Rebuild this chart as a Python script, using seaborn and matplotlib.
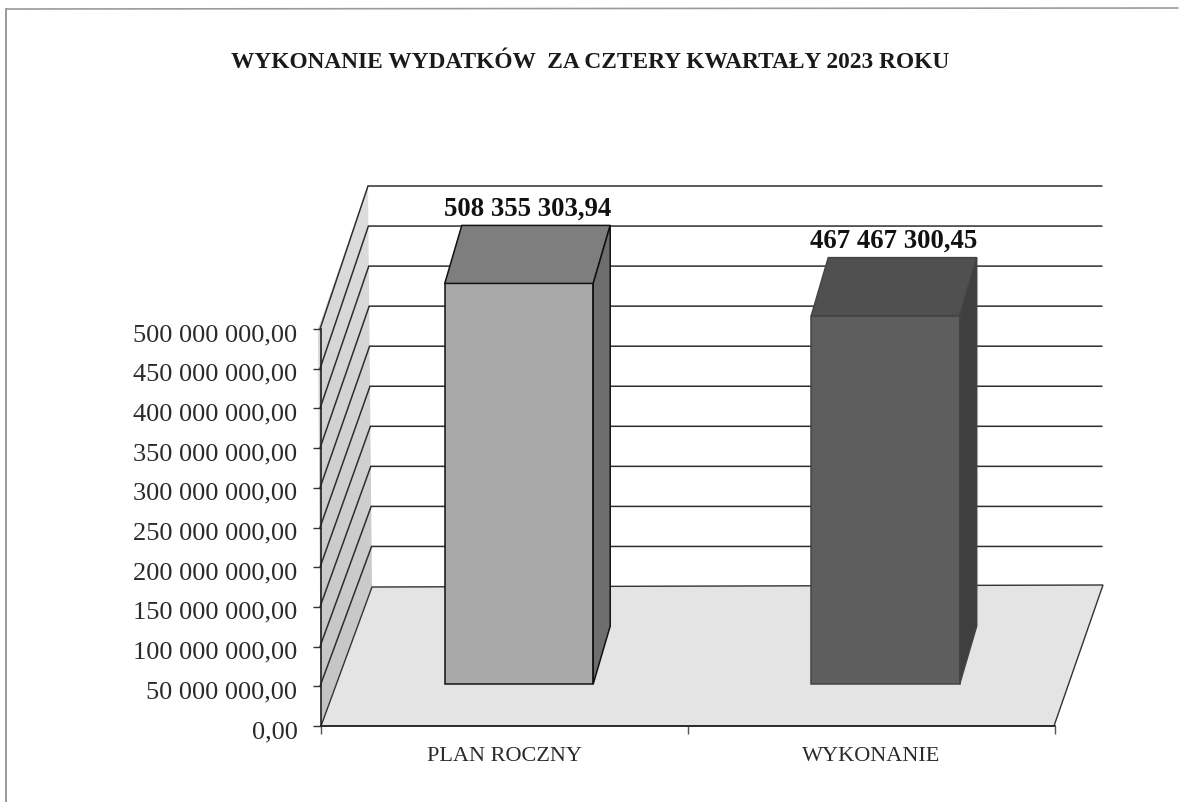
import matplotlib
matplotlib.use("Agg")
import matplotlib.pyplot as plt
import numpy as np
import seaborn as sns
from matplotlib.patches import Polygon
from matplotlib.ticker import FuncFormatter
from matplotlib.transforms import Affine2D

categories = ["PLAN ROCZNY", "WYKONANIE"]
values = [508355303.94, 467467300.45]
value_labels = ["508 355 303,94", "467 467 300,45"]
y_ticks = [0, 50e6, 100e6, 150e6, 200e6, 250e6, 300e6, 350e6, 400e6, 450e6, 500e6]
title = "WYKONANIE WYDATKÓW  ZA CZTERY KWARTAŁY 2023 ROKU"

front_colors = ["#a9a9a9", "#5e5e5e"]
top_colors = ["#7e7e7e", "#505050"]
side_colors = ["#6e6e6e", "#3f3f3f"]
edge_colors = ["#111111", "#444444"]

W, H = 1183, 803
serif = "Liberation Serif"

sns.set_theme(style="white")
plt.rcParams["font.family"] = [serif, "DejaVu Serif"]

fig = plt.figure(figsize=(W / 100, H / 100), dpi=100, facecolor="white")


def px_axes(left, top, right, bottom):
    return fig.add_axes([left / W, 1 - bottom / H, (right - left) / W, (bottom - top) / H])


# background layer in pixel coordinates: walls, floor, grid, page frame
bg = px_axes(0, 0, W, H)
bg.set_xlim(0, W)
bg.set_ylim(H, 0)
bg.axis("off")

wall = Polygon([(321, 727), (318, 330), (368, 187), (372, 588)], closed=True, fc="none", ec="none")
bg.add_patch(wall)
shade = np.linspace(0.87, 0.76, 64).reshape(-1, 1)
im = bg.imshow(shade, extent=(310, 380, 735, 180), cmap="gray", vmin=0, vmax=1, aspect="auto")
im.set_clip_path(wall)
bg.set_xlim(0, W)
bg.set_ylim(H, 0)

floor = Polygon([(321, 727), (372, 588), (1103, 586), (1054, 727)], closed=True,
                fc="#e4e4e4", ec="#333333", lw=1)
bg.add_patch(floor)

for v in y_ticks[1:]:
    f = v / y_ticks[-1]
    fy = 727 - f * 397
    by = 587.5 - f * 400.5
    bx = 372 - f * 4
    bg.plot([320, bx, 1102], [fy, by, by], color="#2e2e2e", lw=1.1, solid_joinstyle="miter")

bg.plot([6, 6], [10, H], color="#9a9a9a", lw=1.4)
bg.plot([6, 1178], [10, 9], color="#9a9a9a", lw=1.2)

# axis with the tick labels, front plane of the chart
ax = px_axes(321, 330, 1055, 727)
ax.patch.set_visible(False)
ax.set_xlim(-0.5, 1.5)
ax.set_ylim(0, y_ticks[-1])
ax.set_yticks(y_ticks)
ax.yaxis.set_major_formatter(FuncFormatter(
    lambda v, pos: f"{v:,.2f}".replace(",", " ").replace(".", ",")))
ax.set_xticks([0, 1], categories)
ax.set_xticks([-0.5, 0.5, 1.5], minor=True)
ax.tick_params(axis="y", left=True, length=6, width=1, color="#333333", pad=11,
               labelsize=19, labelcolor="#2a2a2a")
ax.tick_params(axis="x", which="major", bottom=False, pad=8.5, labelsize=16, labelcolor="#2a2a2a")
ax.tick_params(axis="x", which="minor", bottom=True, length=6, width=1, color="#555555")
ax.xaxis.get_minor_ticks()[1].tick1line.set_color("#cfcfcf")
for lab in ax.get_yticklabels():
    lab.set_transform(lab.get_transform() + Affine2D().translate(0, -2.5))
sns.despine(ax=ax, top=True, right=True)
for side in ["left", "bottom"]:
    ax.spines[side].set_color("#222222")
    ax.spines[side].set_linewidth(1.2)

# the bars stand further back on the floor, so they get their own axes
bar_ax = px_axes(335.75, 291, 1068.75, 685)
bar_ax.patch.set_visible(False)
sns.barplot(x=categories, y=values, hue=categories, palette=front_colors, legend=False,
            saturation=1, width=0.405, ax=bar_ax)
bar_ax.set_xlim(-0.5, 1.5)
bar_ax.set_ylim(0, y_ticks[-1])
bar_ax.axis("off")

depth_x, depth_y = 17, -58
for i, patch in enumerate(bar_ax.patches):
    patch.set_clip_on(False)
    patch.set_edgecolor(edge_colors[i])
    patch.set_linewidth(1.1)
    x0, w, h = patch.get_x(), patch.get_width(), patch.get_height()
    (l, t), (r, b) = bg.transData.inverted().transform(
        bar_ax.transData.transform([(x0, h), (x0 + w, 0)]))
    top = [(l, t), (l + depth_x, t + depth_y), (r + depth_x, t + depth_y), (r, t)]
    side = [(r, t), (r + depth_x, t + depth_y), (r + depth_x, b + depth_y), (r, b)]
    bar_ax.add_patch(Polygon(top, closed=True, fc=top_colors[i], ec=edge_colors[i], lw=1.1,
                             transform=bg.transData, clip_on=False))
    bar_ax.add_patch(Polygon(side, closed=True, fc=side_colors[i], ec=edge_colors[i], lw=1.1,
                             transform=bg.transData, clip_on=False))
    bar_ax.annotate(value_labels[i], xy=(x0 + w / 2, h), xytext=(6, 54), textcoords="offset points",
                    ha="center", va="center", fontsize=19.3, fontweight="bold", color="#111111",
                    annotation_clip=False)

bg.text(590, 62, title, ha="center", va="center", fontsize=16.8, fontweight="bold", color="#1a1a1a")

fig.savefig("out.png", dpi=100)
